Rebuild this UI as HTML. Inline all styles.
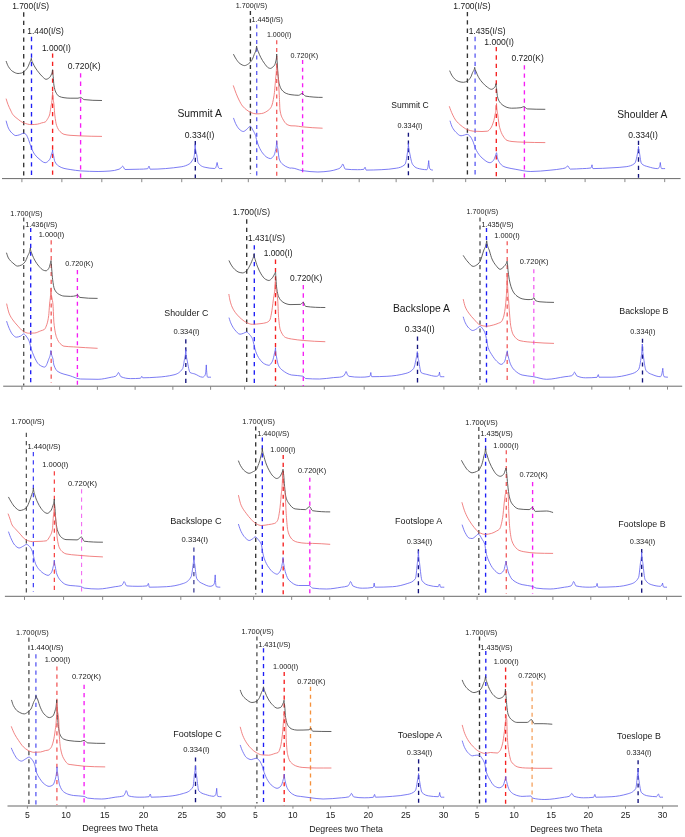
<!DOCTYPE html>
<html><head><meta charset="utf-8"><style>
html,body{margin:0;padding:0;background:#fff;}
body{width:685px;height:837px;overflow:hidden;}
svg{display:block;will-change:transform;}
text{font-family:"Liberation Sans", sans-serif;}
</style></head><body>
<svg width="685" height="837" viewBox="0 0 685 837" font-family='"Liberation Sans", sans-serif'>
<rect width="685" height="837" fill="#ffffff"/>
<line x1="2" y1="178.6" x2="680.6" y2="178.6" stroke="#6a6a6a" stroke-width="1"/>
<line x1="3.2" y1="386.2" x2="682.2" y2="386.2" stroke="#6a6a6a" stroke-width="1"/>
<line x1="4.9" y1="596.3" x2="681.8" y2="596.3" stroke="#6a6a6a" stroke-width="1"/>
<line x1="7.5" y1="806.0" x2="678" y2="806.0" stroke="#9a9a9a" stroke-width="1.5"/>
<line x1="21.9" y1="178.6" x2="21.9" y2="182.2" stroke="#888888" stroke-width="1"/>
<line x1="61.86" y1="178.6" x2="61.86" y2="182.2" stroke="#888888" stroke-width="1"/>
<line x1="101.82" y1="178.6" x2="101.82" y2="182.2" stroke="#888888" stroke-width="1"/>
<line x1="141.78" y1="178.6" x2="141.78" y2="182.2" stroke="#888888" stroke-width="1"/>
<line x1="181.74" y1="178.6" x2="181.74" y2="182.2" stroke="#888888" stroke-width="1"/>
<line x1="221.7" y1="178.6" x2="221.7" y2="182.2" stroke="#888888" stroke-width="1"/>
<line x1="23.7" y1="12.3" x2="23.7" y2="175.8" stroke="#333333" stroke-width="1.35" stroke-dasharray="4.35 4.01"/>
<line x1="31.5" y1="36.8" x2="31.5" y2="175.8" stroke="#1e1ef5" stroke-width="1.35" stroke-dasharray="4.35 4.01"/>
<line x1="52.6" y1="53.4" x2="52.6" y2="175.8" stroke="#f52020" stroke-width="1.35" stroke-dasharray="4.35 4.01"/>
<line x1="80.6" y1="73.2" x2="80.6" y2="178.5" stroke="#f51ef5" stroke-width="1.35" stroke-dasharray="4.35 4.01"/>
<line x1="195.3" y1="141" x2="195.3" y2="178" stroke="#14147d" stroke-width="1.35" stroke-dasharray="4.35 4.01"/>
<path d="M6.2,61.4C6.93,63.44 7.67,65.44 8.4,66.6C9.87,68.91 11.33,70.65 12.8,71.5C14.53,72.5 16.27,73.5 18,73.5C19.17,73.5 20.33,73.28 21.5,73C22.37,72.8 23.23,72.15 24.1,71.5C25.27,70.62 26.43,69.35 27.6,67.5C28.33,66.34 29.07,64.14 29.8,62.3C30.3,61.04 30.8,61.23 31.3,58.3C31.83,61.82 32.37,61.84 32.9,63.1C33.77,65.14 34.63,66.61 35.5,68C36.67,69.87 37.83,71.37 39,72.8C40.17,74.23 41.33,75.66 42.5,76.7C43.67,77.74 44.83,79.3 46,79.3C47.17,79.3 48.33,78.54 49.5,77.6C50.23,77.01 50.97,75.59 51.7,73.6C52,72.78 52.3,72.56 52.6,69.7C52.8,74.54 53,73.97 53.2,76.3C53.43,79.02 53.67,83.5 53.9,85C54.5,88.85 55.1,90.79 55.7,92C56.87,94.34 58.03,95.86 59.2,96.4C60.8,97.14 62.4,97.49 64,97.7C66.03,97.96 68.07,98.2 70.1,98.2C72.73,98.2 75.37,98.2 78,98.2C78.87,98.2 79.73,97.4 80.6,97.4C81.77,97.4 82.93,99.46 84.1,99.6C89.93,100.28 95.77,100.5 101.6,100.5" fill="none" stroke="#454545" stroke-width="0.85" stroke-linejoin="round" stroke-linecap="round"/>
<path d="M6.2,99C6.8,101.05 7.4,102.95 8,104.5C8.83,106.65 9.67,108.28 10.5,110C11.27,111.59 12.03,113.5 12.8,114.5C14.23,116.37 15.67,117.37 17.1,118.5C19.3,120.23 21.5,122.15 23.7,122.9C26.2,123.75 28.7,124.6 31.2,124.6C33.23,124.6 35.27,124.43 37.3,124.2C38.77,124.04 40.23,123.3 41.7,122.9C42.87,122.58 44.03,122.52 45.2,122C46.07,121.61 46.93,119.93 47.8,118.5C48.37,117.56 48.93,116.76 49.5,115C49.93,113.66 50.37,110.46 50.8,107.5C51.4,103.4 52,103.37 52.6,92C53.07,101.53 53.53,99.96 54,105C54.27,107.88 54.53,112.78 54.8,115C55.4,120.01 56,123.79 56.6,125.5C57.77,128.82 58.93,130.43 60.1,131.6C61.4,132.9 62.7,133.93 64,134.3C66,134.86 68,135.12 70,135.3C73.53,135.61 77.07,135.78 80.6,135.9C87.6,136.15 94.6,136.39 101.6,136.4" fill="none" stroke="#ee6464" stroke-width="0.8" stroke-linejoin="round" stroke-linecap="round"/>
<path d="M6.2,121.1C6.93,123.94 7.67,126.63 8.4,128.1C9.57,130.44 10.73,131.94 11.9,133C13.2,134.18 14.5,135.6 15.8,135.6C17.13,135.6 18.47,135.08 19.8,134.7C21.1,134.33 22.4,133.2 23.7,133.2C24.43,133.2 25.17,133.72 25.9,134.3C26.77,134.98 27.63,137.44 28.5,139.5C29.4,141.64 30.3,145.24 31.2,147.4C32.37,150.19 33.53,152.8 34.7,154.4C36.13,156.36 37.57,157.67 39,158.8C41.07,160.43 43.13,162.7 45.2,162.7C46.63,162.7 48.07,161.41 49.5,159.7C50.23,158.82 50.97,155.95 51.7,153.5C52,152.5 52.3,152.57 52.6,150C52.9,153.89 53.2,153.72 53.5,155.3C53.93,157.58 54.37,160.46 54.8,161.4C55.97,163.94 57.13,164.99 58.3,165.8C60.2,167.12 62.1,167.91 64,168.4C66.03,168.93 68.07,169.18 70.1,169.5C73.6,170.04 77.1,170.7 80.6,170.9C86.43,171.23 92.27,171.5 98.1,171.5C102.07,171.5 106.03,171.28 110,171C113.03,170.78 116.07,170.29 119.1,169.2C119.43,169.08 119.77,168.76 120.1,168.52C120.63,168.13 121.17,167.78 121.7,167.28C122.03,166.96 122.37,166.1 122.7,166.1C123.47,166.1 124.23,169.5 125,169.5C129.8,169.5 134.6,169.35 139.4,169.2C142.17,169.11 144.93,169.13 147.7,168.73C148.13,168.67 148.57,166.1 149,166.1C149.4,166.1 149.8,169.2 150.2,169.2C160.53,169.2 170.87,168.31 181.2,166.8C184.13,166.37 187.07,165.44 190,163.5C190.83,162.95 191.67,161.32 192.5,160C192.93,159.31 193.37,159 193.8,157.69C194.23,156.38 194.67,154.2 195.1,144.6C195.73,152.96 196.37,152.03 197,156C197.33,158.09 197.67,161.99 198,162.5C200.37,166.14 202.73,166.78 205.1,167.3C208.3,168 211.5,168.5 214.7,168.5C215.5,168.5 216.3,166.9 217.1,162.5C217.9,166.9 218.7,168.5 219.5,168.5C220.3,168.5 221.1,168.5 221.9,168.5" fill="none" stroke="#5a5af0" stroke-width="0.8" stroke-linejoin="round" stroke-linecap="round"/>
<text x="12.16" y="8.74" font-size="8.42" fill="#1a1a1a">1.700(I/S)</text>
<text x="27.37" y="34.3" font-size="8.32" fill="#1a1a1a">1.440(I/S)</text>
<text x="41.96" y="51" font-size="8.37" fill="#1a1a1a">1.000(I)</text>
<text x="67.87" y="68.9" font-size="8.54" fill="#1a1a1a">0.720(K)</text>
<text x="177.42" y="116.8" font-size="10.38" fill="#1a1a1a">Summit A</text>
<text x="184.77" y="138.1" font-size="8.58" fill="#1a1a1a">0.334(I)</text>
<line x1="248.3" y1="178.6" x2="248.3" y2="182.2" stroke="#888888" stroke-width="1"/>
<line x1="285.26" y1="178.6" x2="285.26" y2="182.2" stroke="#888888" stroke-width="1"/>
<line x1="322.22" y1="178.6" x2="322.22" y2="182.2" stroke="#888888" stroke-width="1"/>
<line x1="359.18" y1="178.6" x2="359.18" y2="182.2" stroke="#888888" stroke-width="1"/>
<line x1="396.14" y1="178.6" x2="396.14" y2="182.2" stroke="#888888" stroke-width="1"/>
<line x1="433.1" y1="178.6" x2="433.1" y2="182.2" stroke="#888888" stroke-width="1"/>
<line x1="250.4" y1="10.9" x2="250.4" y2="173.7" stroke="#333333" stroke-width="1.35" stroke-dasharray="4.02 3.71"/>
<line x1="256.7" y1="24.5" x2="256.7" y2="177.6" stroke="#5f5ff2" stroke-width="1.35" stroke-dasharray="4.02 3.71"/>
<line x1="276.7" y1="40.3" x2="276.7" y2="178.5" stroke="#f26060" stroke-width="1.35" stroke-dasharray="4.02 3.71"/>
<line x1="302.6" y1="60.1" x2="302.6" y2="175.8" stroke="#f51ef5" stroke-width="1.35" stroke-dasharray="4.02 3.71"/>
<line x1="408.4" y1="132.7" x2="408.4" y2="176.2" stroke="#14147d" stroke-width="1.35" stroke-dasharray="4.02 3.71"/>
<path d="M233.6,54.5C234.5,56.33 235.4,58 236.3,59.3C237.47,60.99 238.63,62.73 239.8,63.5C241.4,64.55 243,65.6 244.6,65.6C245.9,65.6 247.2,64.64 248.5,63.8C249.53,63.13 250.57,62.1 251.6,60.6C252.47,59.34 253.33,56.94 254.2,54.5C255,52.25 255.8,52.26 256.6,46.1C257.13,49.99 257.67,49.91 258.2,51.4C259.07,53.81 259.93,55.82 260.8,57.5C261.97,59.76 263.13,61.66 264.3,63.2C265.77,65.13 267.23,67.5 268.7,68C269.3,68.2 269.9,68.4 270.5,68.4C271.17,68.4 271.83,67.77 272.5,67.3C273.13,66.85 273.77,66.37 274.4,65.4C274.97,64.53 275.53,63.05 276.1,60.1C276.3,59.06 276.5,58.47 276.7,54C276.87,59.79 277.03,59.23 277.2,61.9C277.43,65.64 277.67,70.69 277.9,73.3C278.33,78.14 278.77,82.12 279.2,83.8C280.07,87.16 280.93,88.82 281.8,89.9C283.27,91.72 284.73,92.8 286.2,93.4C287.8,94.05 289.4,94.5 291,94.7C293.53,95.02 296.07,95.3 298.6,95.3C299.77,95.3 300.93,93.5 302.1,93.5C303.27,93.5 304.43,95.9 305.6,96.1C311.13,97.05 316.67,97.4 322.2,97.4" fill="none" stroke="#454545" stroke-width="0.85" stroke-linejoin="round" stroke-linecap="round"/>
<path d="M233.4,85.8C235.27,91.48 237.13,96.24 239,100C240.17,102.35 241.33,104.58 242.5,106C243.93,107.75 245.37,108.95 246.8,110C248.23,111.05 249.67,112.09 251.1,112.6C252.87,113.23 254.63,113.9 256.4,113.9C258.17,113.9 259.93,113.72 261.7,113.5C264.03,113.2 266.37,111.78 268.7,110C269.6,109.31 270.5,108.35 271.4,106.6C272.27,104.92 273.13,101.12 274,95.8C274.57,92.32 275.13,84.89 275.7,77.9C276,74.2 276.3,74.46 276.6,65C276.9,68.67 277.2,67.71 277.5,70C278.1,74.58 278.7,85.46 279.3,95.8C279.53,99.82 279.77,108.47 280,110C280.9,115.89 281.8,117.07 282.7,118.8C284.17,121.62 285.63,123.73 287.1,124.5C288.4,125.18 289.7,125.74 291,125.8C292.37,125.86 293.73,125.85 295.1,125.9C297.43,125.99 299.77,126.58 302.1,126.8C308.8,127.44 315.5,128.03 322.2,128.2" fill="none" stroke="#ee6464" stroke-width="0.8" stroke-linejoin="round" stroke-linecap="round"/>
<path d="M233.6,118.3C234.5,120.92 235.4,123.3 236.3,124.9C237.47,126.98 238.63,128.83 239.8,129.7C240.97,130.57 242.13,131.5 243.3,131.5C244.47,131.5 245.63,130.16 246.8,129.3C247.97,128.44 249.13,126.2 250.3,126.2C251.17,126.2 252.03,128.6 252.9,130.1C253.77,131.6 254.63,132.95 255.5,135.4C255.93,136.62 256.37,139.25 256.8,140.7C257.53,143.16 258.27,145.2 259,146.8C260.17,149.34 261.33,151.4 262.5,152.9C263.97,154.78 265.43,156.52 266.9,157.3C268.07,157.92 269.23,158.6 270.4,158.6C271.57,158.6 272.73,157.25 273.9,155.5C274.5,154.6 275.1,152.45 275.7,149.4C276.03,147.7 276.37,147.08 276.7,140.7C277.1,147.08 277.5,146.47 277.9,149.4C278.33,152.57 278.77,157.79 279.2,159C280.37,162.26 281.53,163.27 282.7,164.3C284.43,165.83 286.17,166.8 287.9,167.4C288.93,167.76 289.97,168.2 291,168.2C291.2,168.2 291.4,168 291.6,168C295.1,168 298.6,170.13 302.1,170.6C307.37,171.31 312.63,172 317.9,172C321.93,172 325.97,171.52 330,171C332.53,170.67 335.07,169.95 337.6,169.1C338.43,168.82 339.27,168.55 340.1,167.98C340.63,167.61 341.17,166.77 341.7,165.94C342.03,165.42 342.37,164 342.7,164C343.53,164 344.37,169 345.2,169.1C349.3,169.59 353.4,169.7 357.5,169.7C359.6,169.7 361.7,169.63 363.8,169.32C364.23,169.26 364.67,167.2 365.1,167.2C365.43,167.2 365.77,170.1 366.1,170.1C371.13,170.1 376.17,169.91 381.2,169.7C386.27,169.49 391.33,169.07 396.4,168.2C399.27,167.71 402.13,167.15 405,164.4C405.8,163.63 406.6,158.31 407.4,153C407.73,150.79 408.07,150.47 408.4,143.5C408.83,150.47 409.27,150.7 409.7,153C410.67,158.14 411.63,163.03 412.6,164.4C414.17,166.62 415.73,167.75 417.3,168.2C420.47,169.11 423.63,169.7 426.8,169.7C427.43,169.7 428.07,167.27 428.7,160.6C429.13,166.83 429.57,168.74 430,169.1C430.83,169.79 431.67,170.1 432.5,170.1" fill="none" stroke="#5a5af0" stroke-width="0.8" stroke-linejoin="round" stroke-linecap="round"/>
<text x="235.75" y="7.6" font-size="7.17" fill="#1a1a1a">1.700(I/S)</text>
<text x="251.45" y="22.1" font-size="7.19" fill="#1a1a1a">1.445(I/S)</text>
<text x="266.96" y="37.1" font-size="7.07" fill="#1a1a1a">1.000(I)</text>
<text x="290.62" y="57.8" font-size="7.2" fill="#1a1a1a">0.720(K)</text>
<text x="391.21" y="107.9" font-size="8.55" fill="#1a1a1a">Summit C</text>
<text x="397.52" y="127.9" font-size="7.26" fill="#1a1a1a">0.334(I)</text>
<line x1="465.7" y1="178.5" x2="465.7" y2="182.1" stroke="#888888" stroke-width="1"/>
<line x1="505.5" y1="178.5" x2="505.5" y2="182.1" stroke="#888888" stroke-width="1"/>
<line x1="545.3" y1="178.5" x2="545.3" y2="182.1" stroke="#888888" stroke-width="1"/>
<line x1="585.1" y1="178.5" x2="585.1" y2="182.1" stroke="#888888" stroke-width="1"/>
<line x1="624.9" y1="178.5" x2="624.9" y2="182.1" stroke="#888888" stroke-width="1"/>
<line x1="664.7" y1="178.5" x2="664.7" y2="182.1" stroke="#888888" stroke-width="1"/>
<line x1="467.4" y1="11.9" x2="467.4" y2="175.8" stroke="#333333" stroke-width="1.35" stroke-dasharray="4.33 4"/>
<line x1="475.1" y1="36.8" x2="475.1" y2="175.8" stroke="#5f5ff2" stroke-width="1.35" stroke-dasharray="4.33 4"/>
<line x1="496.3" y1="47" x2="496.3" y2="177" stroke="#f52020" stroke-width="1.35" stroke-dasharray="4.33 4"/>
<line x1="524.4" y1="65.2" x2="524.4" y2="177.6" stroke="#f51ef5" stroke-width="1.35" stroke-dasharray="4.33 4"/>
<line x1="638.5" y1="140.7" x2="638.5" y2="177.7" stroke="#14147d" stroke-width="1.35" stroke-dasharray="4.33 4"/>
<path d="M449.8,71C450.67,73.06 451.53,75.01 452.4,76.2C453.87,78.21 455.33,79.84 456.8,80.6C458.23,81.34 459.67,81.92 461.1,82.1C461.9,82.2 462.7,82.3 463.5,82.3C464.8,82.3 466.1,81.68 467.4,81C468.53,80.41 469.67,78.98 470.8,77.1C471.37,76.16 471.93,74.12 472.5,72.7C473.23,70.87 473.97,71.29 474.7,67.4C475.13,70.33 475.57,70.25 476,71.4C476.9,73.79 477.8,75.97 478.7,77.5C480.13,79.94 481.57,81.65 483,83.2C484.47,84.78 485.93,86.23 487.4,87.2C488.73,88.08 490.07,89.3 491.4,89.3C492.4,89.3 493.4,88.59 494.4,87.6C494.93,87.07 495.47,86.53 496,83.6C496.2,87.49 496.4,87.14 496.6,88.9C496.9,91.54 497.2,95.58 497.5,96.8C498.23,99.77 498.97,100.99 499.7,102C501.17,104.03 502.63,105.14 504.1,106C505.4,106.76 506.7,107.43 508,107.7C509.2,107.95 510.4,108.2 511.6,108.2C514.73,108.2 517.87,108.04 521,107.7C521.93,107.6 522.87,106.6 523.8,106.6C524.97,106.6 526.13,108.84 527.3,108.9C533.17,109.23 539.03,109.3 544.9,109.3" fill="none" stroke="#454545" stroke-width="0.85" stroke-linejoin="round" stroke-linecap="round"/>
<path d="M449.4,106.6C450.37,109.4 451.33,111.95 452.3,114C453.47,116.48 454.63,118.77 455.8,120.3C457.53,122.57 459.27,124.12 461,125.5C463.03,127.12 465.07,128.71 467.1,129.5C469.17,130.3 471.23,131.07 473.3,131.2C476.2,131.39 479.1,131.5 482,131.5C483.77,131.5 485.53,131.4 487.3,131.2C488.47,131.07 489.63,129.63 490.8,128.1C491.67,126.96 492.53,124.71 493.4,122C493.93,120.33 494.47,117.98 495,115C495.5,112.21 496,111.93 496.5,103.5C496.93,111.93 497.37,111.64 497.8,115C498.4,119.66 499,125 499.6,127.3C500.77,131.78 501.93,134.18 503.1,136C504.4,138.03 505.7,139.91 507,140.4C508.67,141.03 510.33,141.33 512,141.5C515.93,141.9 519.87,142.08 523.8,142.2C530.83,142.41 537.87,142.6 544.9,142.6" fill="none" stroke="#ee6464" stroke-width="0.8" stroke-linejoin="round" stroke-linecap="round"/>
<path d="M450.1,121.1C450.83,123.58 451.57,125.91 452.3,127.3C453.47,129.51 454.63,130.98 455.8,132.1C457.53,133.76 459.27,135.8 461,135.8C462.17,135.8 463.33,135.29 464.5,135C465.37,134.78 466.23,134.3 467.1,134.3C468,134.3 468.9,135.18 469.8,136C470.97,137.06 472.13,139.5 473.3,142.2C473.87,143.51 474.43,146.02 475,147.4C475.9,149.59 476.8,151.33 477.7,152.7C479.13,154.88 480.57,156.7 482,157.9C484.63,160.1 487.27,162.7 489.9,162.7C491.07,162.7 492.23,161.71 493.4,160.5C494.13,159.74 494.87,157.23 495.6,155.3C495.9,154.51 496.2,152.7 496.5,152.7C496.8,152.7 497.1,156.89 497.4,157.9C498.13,160.38 498.87,161.67 499.6,162.7C500.77,164.35 501.93,165.58 503.1,166.2C504.4,166.89 505.7,167.26 507,167.6C509.7,168.31 512.4,168.74 515.1,169.2C520.33,170.09 525.57,171.5 530.8,171.5C537.23,171.5 543.67,170.78 550.1,170.2C554.27,169.82 558.43,169.34 562.6,168.6C563.43,168.45 564.27,168.31 565.1,168.01C565.63,167.81 566.17,167.37 566.7,166.93C567.03,166.65 567.37,165.9 567.7,165.9C568.53,165.9 569.37,169.1 570.2,169.1C574.3,169.1 578.4,168.81 582.5,168.6C585.23,168.46 587.97,168.51 590.7,168.03C591.13,167.95 591.57,167.17 592,164.8C592.33,167.59 592.67,168.6 593,168.6C599.33,168.6 605.67,168.15 612,167.8C616.73,167.54 621.47,167.35 626.2,166.7C629.03,166.31 631.87,165.69 634.7,163.4C635.67,162.62 636.63,157.95 637.6,153C637.9,151.46 638.2,151.24 638.5,146.4C638.83,151.24 639.17,150.99 639.5,153C640.13,156.83 640.77,162.71 641.4,163.4C643.6,165.78 645.8,166.05 648,166.7C651.17,167.63 654.33,168.6 657.5,168.6C658,168.6 658.5,168.22 659,167.69C659.43,167.22 659.87,166.3 660.3,162.5C660.77,166.97 661.23,168.6 661.7,168.6C662.7,168.6 663.7,168.6 664.7,168.6" fill="none" stroke="#5a5af0" stroke-width="0.8" stroke-linejoin="round" stroke-linecap="round"/>
<text x="453.35" y="8.9" font-size="8.49" fill="#1a1a1a">1.700(I/S)</text>
<text x="468.66" y="33.6" font-size="8.42" fill="#1a1a1a">1.435(I/S)</text>
<text x="484.35" y="44.8" font-size="8.59" fill="#1a1a1a">1.000(I)</text>
<text x="511.47" y="61.2" font-size="8.44" fill="#1a1a1a">0.720(K)</text>
<text x="617.23" y="118" font-size="10.26" fill="#1a1a1a">Shoulder A</text>
<text x="628.26" y="137.5" font-size="8.61" fill="#1a1a1a">0.334(I)</text>
<line x1="21.9" y1="386.2" x2="21.9" y2="389.8" stroke="#888888" stroke-width="1"/>
<line x1="59.64" y1="386.2" x2="59.64" y2="389.8" stroke="#888888" stroke-width="1"/>
<line x1="97.38" y1="386.2" x2="97.38" y2="389.8" stroke="#888888" stroke-width="1"/>
<line x1="135.12" y1="386.2" x2="135.12" y2="389.8" stroke="#888888" stroke-width="1"/>
<line x1="172.86" y1="386.2" x2="172.86" y2="389.8" stroke="#888888" stroke-width="1"/>
<line x1="210.6" y1="386.2" x2="210.6" y2="389.8" stroke="#888888" stroke-width="1"/>
<line x1="23.7" y1="217.5" x2="23.7" y2="385.5" stroke="#555555" stroke-width="1.35" stroke-dasharray="4.11 3.79"/>
<line x1="30.7" y1="228" x2="30.7" y2="386" stroke="#1e1ef5" stroke-width="1.35" stroke-dasharray="4.11 3.79"/>
<line x1="51.2" y1="240.3" x2="51.2" y2="383" stroke="#f26060" stroke-width="1.35" stroke-dasharray="4.11 3.79"/>
<line x1="77.4" y1="270.1" x2="77.4" y2="385.5" stroke="#f51ef5" stroke-width="1.35" stroke-dasharray="4.11 3.79"/>
<line x1="185.8" y1="339.3" x2="185.8" y2="383.9" stroke="#14147d" stroke-width="1.35" stroke-dasharray="4.11 3.79"/>
<path d="M6.6,253.1C7.2,255.01 7.8,256.99 8.4,258C9.87,260.46 11.33,261.67 12.8,262.9C14.4,264.24 16,266.1 17.6,266.1C18.9,266.1 20.2,265.56 21.5,265C22.67,264.5 23.83,263.4 25,261.9C25.87,260.78 26.73,258.42 27.6,256.2C28.5,253.9 29.4,253.99 30.3,247.9C30.87,252.37 31.43,252.4 32,254C32.9,256.54 33.8,258.49 34.7,260.1C36.13,262.67 37.57,264.72 39,266.3C40.47,267.91 41.93,269.69 43.4,270.2C44.27,270.5 45.13,270.8 46,270.8C46.9,270.8 47.8,269.76 48.7,268.5C49.27,267.71 49.83,265.31 50.4,263.2C50.6,262.46 50.8,260.6 51,260.6C51.23,260.6 51.47,266.15 51.7,268.9C52,272.43 52.3,277.11 52.6,279.4C53.2,283.98 53.8,287.68 54.4,289C55.7,291.86 57,293.11 58.3,293.9C60.2,295.06 62.1,295.94 64,296.1C66.2,296.28 68.4,296.4 70.6,296.4C72.47,296.4 74.33,296.17 76.2,295.7C76.6,295.6 77,294.8 77.4,294.8C78.17,294.8 78.93,297.29 79.7,297.4C85.53,298.23 91.37,298.4 97.2,298.4" fill="none" stroke="#454545" stroke-width="0.85" stroke-linejoin="round" stroke-linecap="round"/>
<path d="M6.7,304C7.57,308.02 8.43,311.7 9.3,313.8C10.47,316.63 11.63,318.22 12.8,319.9C14.23,321.96 15.67,323.52 17.1,325.1C19.17,327.38 21.23,330.21 23.3,331.3C25.03,332.22 26.77,333.2 28.5,333.2C30.57,333.2 32.63,333.12 34.7,333C36.73,332.88 38.77,331.55 40.8,330.8C41.97,330.37 43.13,330.26 44.3,329.5C45.17,328.94 46.03,326.82 46.9,324.3C47.5,322.55 48.1,320.04 48.7,315.5C48.97,313.48 49.23,308.38 49.5,305C49.97,299.09 50.43,300.47 50.9,288C51.6,300.47 52.3,296.53 53,305C53.3,308.63 53.6,319.66 53.9,322.5C54.8,331.03 55.7,334.96 56.6,337.4C57.77,340.56 58.93,342.33 60.1,343.5C61.4,344.8 62.7,346.01 64,346.2C67.2,346.68 70.4,346.69 73.6,346.9C81.47,347.42 89.33,347.91 97.2,348.3" fill="none" stroke="#ee6464" stroke-width="0.8" stroke-linejoin="round" stroke-linecap="round"/>
<path d="M6.7,321.5C7.57,324.22 8.43,326.72 9.3,328.6C10.47,331.13 11.63,333.65 12.8,334.8C13.97,335.95 15.13,337.2 16.3,337.2C17.73,337.2 19.17,336.65 20.6,336.1C21.63,335.7 22.67,333.9 23.7,333.9C24.73,333.9 25.77,335.65 26.8,337C27.67,338.13 28.53,339.58 29.4,341.8C30,343.34 30.6,346.87 31.2,348.8C32.07,351.59 32.93,353.95 33.8,355.8C35.53,359.5 37.27,363.38 39,364.6C40.9,365.94 42.8,367.1 44.7,367.1C46.03,367.1 47.37,362.92 48.7,359.3C49.43,357.31 50.17,356.95 50.9,350.5C51.6,356.95 52.3,355.67 53,359.3C53.3,360.86 53.6,364.1 53.9,365C55.2,368.91 56.5,370.65 57.8,371.5C61.9,374.17 66,374.47 70.1,375.8C73.6,376.94 77.1,378.88 80.6,379C86.43,379.2 92.27,379.3 98.1,379.3C102.53,379.3 106.97,378.07 111.4,377.2C112.87,376.91 114.33,376.81 115.8,376.17C116.33,375.93 116.87,375.05 117.4,374.29C117.73,373.81 118.07,372.5 118.4,372.5C119.23,372.5 120.07,376.35 120.9,376.7C124.07,378.04 127.23,378.6 130.4,378.6C133.77,378.6 137.13,378.55 140.5,378.25C140.93,378.22 141.37,376.3 141.8,376.3C142.1,376.3 142.4,377.8 142.7,377.8C147.43,377.8 152.17,377.5 156.9,377.2C162.6,376.84 168.3,376.24 174,374.8C176.87,374.07 179.73,372.94 182.6,368.7C183.23,367.76 183.87,363.01 184.5,359.2C184.93,356.6 185.37,356.67 185.8,349.7C186.3,358.06 186.8,358.37 187.3,361.1C188.23,366.2 189.17,371.91 190.1,372.5C191.7,373.5 193.3,373.43 194.9,374C197.43,374.9 199.97,377.2 202.5,377.2C203.33,377.2 204.17,376.59 205,375.35C205.43,374.71 205.87,372.57 206.3,364.9C206.73,373.92 207.17,377.2 207.6,377.2C208.6,377.2 209.6,377.2 210.6,377.2" fill="none" stroke="#5a5af0" stroke-width="0.8" stroke-linejoin="round" stroke-linecap="round"/>
<text x="10.35" y="215.5" font-size="7.29" fill="#1a1a1a">1.700(I/S)</text>
<text x="25.14" y="226.7" font-size="7.34" fill="#1a1a1a">1.436(I/S)</text>
<text x="38.74" y="236.8" font-size="7.41" fill="#1a1a1a">1.000(I)</text>
<text x="65.22" y="266.4" font-size="7.28" fill="#1a1a1a">0.720(K)</text>
<text x="164.3" y="316.3" font-size="8.8" fill="#1a1a1a">Shoulder C</text>
<text x="173.61" y="334.3" font-size="7.53" fill="#1a1a1a">0.334(I)</text>
<line x1="244.6" y1="386" x2="244.6" y2="389.6" stroke="#888888" stroke-width="1"/>
<line x1="284.46" y1="386" x2="284.46" y2="389.6" stroke="#888888" stroke-width="1"/>
<line x1="324.32" y1="386" x2="324.32" y2="389.6" stroke="#888888" stroke-width="1"/>
<line x1="364.18" y1="386" x2="364.18" y2="389.6" stroke="#888888" stroke-width="1"/>
<line x1="404.04" y1="386" x2="404.04" y2="389.6" stroke="#888888" stroke-width="1"/>
<line x1="443.9" y1="386" x2="443.9" y2="389.6" stroke="#888888" stroke-width="1"/>
<line x1="246.7" y1="219.3" x2="246.7" y2="382.9" stroke="#333333" stroke-width="1.35" stroke-dasharray="4.34 4"/>
<line x1="254.3" y1="245.2" x2="254.3" y2="382.9" stroke="#1e1ef5" stroke-width="1.35" stroke-dasharray="4.34 4"/>
<line x1="275.5" y1="259.6" x2="275.5" y2="386" stroke="#f52020" stroke-width="1.35" stroke-dasharray="4.34 4"/>
<line x1="303.3" y1="285" x2="303.3" y2="386" stroke="#f51ef5" stroke-width="1.35" stroke-dasharray="4.34 4"/>
<line x1="417.5" y1="336.4" x2="417.5" y2="382.9" stroke="#14147d" stroke-width="1.35" stroke-dasharray="4.34 4"/>
<path d="M229.1,260.8C229.83,262.43 230.57,263.96 231.3,265.1C232.47,266.92 233.63,268.49 234.8,269.5C236.23,270.74 237.67,271.92 239.1,272.3C240.27,272.61 241.43,272.9 242.6,272.9C243.93,272.9 245.27,271.88 246.6,270.8C247.6,269.99 248.6,267.88 249.6,266C250.5,264.31 251.4,262.44 252.3,259.9C252.87,258.3 253.43,258.27 254,253.8C254.43,258.27 254.87,258.29 255.3,259.9C256.2,263.23 257.1,265.63 258,267.8C259,270.21 260,272.36 261,273.9C262.47,276.16 263.93,278.38 265.4,279.2C266.57,279.85 267.73,280.5 268.9,280.5C270.07,280.5 271.23,279.09 272.4,277.8C273.13,276.99 273.87,275.25 274.6,273.9C274.9,273.35 275.2,272.2 275.5,272.2C275.63,272.2 275.77,276.51 275.9,278.3C276.2,282.33 276.5,286.79 276.8,288.8C277.4,292.83 278,295.37 278.6,296.7C279.77,299.28 280.93,300.56 282.1,301.5C283.4,302.55 284.7,303.28 286,303.7C287.33,304.13 288.67,304.6 290,304.6C293.5,304.6 297,304.56 300.5,304.4C301.43,304.36 302.37,302.3 303.3,302.3C304.07,302.3 304.83,306.29 305.6,306.4C312.03,307.34 318.47,307.5 324.9,307.5" fill="none" stroke="#454545" stroke-width="0.85" stroke-linejoin="round" stroke-linecap="round"/>
<path d="M228.9,294.4C229.23,296.52 229.57,298.6 229.9,300C230.63,303.08 231.37,305.38 232.1,307C233.57,310.23 235.03,312.19 236.5,314C238.27,316.19 240.03,317.86 241.8,319.3C243.4,320.6 245,321.93 246.6,322.6C248.5,323.4 250.4,324.3 252.3,324.3C255.2,324.3 258.1,323.94 261,323.6C262.77,323.39 264.53,323.15 266.3,322.6C267.47,322.24 268.63,321.65 269.8,320.1C270.37,319.35 270.93,316.07 271.5,313.1C272.1,309.95 272.7,304.88 273.3,300C273.97,294.58 274.63,295.07 275.3,281.5C276.1,295.07 276.9,290.55 277.7,300C278,303.54 278.3,314.18 278.6,317.5C279.17,323.77 279.73,328.3 280.3,329.8C282.2,334.84 284.1,336.95 286,337.7C287.87,338.44 289.73,338.69 291.6,339C295.67,339.68 299.73,340.17 303.8,340.5C310.83,341.07 317.87,341.59 324.9,341.7" fill="none" stroke="#ee6464" stroke-width="0.8" stroke-linejoin="round" stroke-linecap="round"/>
<path d="M229.1,318C229.83,320.36 230.57,322.56 231.3,324.1C232.47,326.54 233.63,328.47 234.8,329.8C236.53,331.77 238.27,334.2 240,334.2C241.17,334.2 242.33,333.67 243.5,333.3C244.53,332.97 245.57,332 246.6,332C247.6,332 248.6,333.51 249.6,334.6C250.5,335.58 251.4,336.57 252.3,338.5C252.87,339.71 253.43,342.57 254,344.7C254.6,346.96 255.2,350.06 255.8,351.7C256.97,354.89 258.13,357.11 259.3,358.7C261.03,361.06 262.77,363.08 264.5,363.9C265.97,364.6 267.43,365.3 268.9,365.3C270.07,365.3 271.23,363.46 272.4,361.3C273.13,359.94 273.87,356.04 274.6,352.6C274.9,351.19 275.2,351.29 275.5,347.7C275.8,353.86 276.1,354.22 276.4,356.1C277.13,360.69 277.87,364.23 278.6,365.7C279.77,368.04 280.93,369.08 282.1,370C285.27,372.49 288.43,374.43 291.6,375C295.4,375.68 299.2,375.34 303,376.2C303.87,376.4 304.73,378.42 305.6,378.5C310.27,378.91 314.93,379 319.6,379C324.27,379 328.93,377.97 333.6,377.6C335.57,377.45 337.53,377.43 339.5,377.2C340.83,377.04 342.17,376.7 343.5,375.95C344.03,375.64 344.57,374.6 345.1,373.67C345.43,373.08 345.77,371.5 346.1,371.5C346.57,371.5 347.03,374.22 347.5,374.86C348,375.55 348.5,376.21 349,376.3C352.8,377.01 356.6,377.2 360.4,377.2C363.43,377.2 366.47,377.1 369.5,376.5C369.93,376.41 370.37,375.43 370.8,372.5C371.13,375.58 371.47,376.7 371.8,376.7C376.83,376.7 381.87,376.52 386.9,376.3C393.23,376.02 399.57,375.1 405.9,373.4C408.43,372.72 410.97,371.74 413.5,368.7C414.47,367.54 415.43,362.19 416.4,357.3C416.7,355.78 417,355.78 417.3,351.6C417.8,358.57 418.3,358.3 418.8,361.1C419.57,365.4 420.33,371.95 421.1,372.5C423,373.85 424.9,373.91 426.8,374.4C429.97,375.21 433.13,376.3 436.3,376.3C436.93,376.3 437.57,376.06 438.2,375.67C438.63,375.4 439.07,374.72 439.5,372.1C439.87,375.47 440.23,376.7 440.6,376.7C441.7,376.7 442.8,376.7 443.9,376.7" fill="none" stroke="#5a5af0" stroke-width="0.8" stroke-linejoin="round" stroke-linecap="round"/>
<text x="232.86" y="215" font-size="8.46" fill="#1a1a1a">1.700(I/S)</text>
<text x="248.06" y="241.3" font-size="8.42" fill="#1a1a1a">1.431(I/S)</text>
<text x="263.76" y="255.9" font-size="8.37" fill="#1a1a1a">1.000(I)</text>
<text x="289.97" y="281" font-size="8.44" fill="#1a1a1a">0.720(K)</text>
<text x="392.95" y="311.9" font-size="10.37" fill="#1a1a1a">Backslope A</text>
<text x="404.86" y="331.5" font-size="8.64" fill="#1a1a1a">0.334(I)</text>
<line x1="478.3" y1="386" x2="478.3" y2="389.6" stroke="#888888" stroke-width="1"/>
<line x1="516.14" y1="386" x2="516.14" y2="389.6" stroke="#888888" stroke-width="1"/>
<line x1="553.98" y1="386" x2="553.98" y2="389.6" stroke="#888888" stroke-width="1"/>
<line x1="591.82" y1="386" x2="591.82" y2="389.6" stroke="#888888" stroke-width="1"/>
<line x1="629.66" y1="386" x2="629.66" y2="389.6" stroke="#888888" stroke-width="1"/>
<line x1="667.5" y1="386" x2="667.5" y2="389.6" stroke="#888888" stroke-width="1"/>
<line x1="480" y1="217.5" x2="480" y2="384.6" stroke="#555555" stroke-width="1.35" stroke-dasharray="4.12 3.8"/>
<line x1="486.5" y1="228" x2="486.5" y2="384.6" stroke="#1e1ef5" stroke-width="1.35" stroke-dasharray="4.12 3.8"/>
<line x1="507.2" y1="241.2" x2="507.2" y2="383.7" stroke="#f26060" stroke-width="1.35" stroke-dasharray="4.12 3.8"/>
<line x1="533.8" y1="269.2" x2="533.8" y2="383.7" stroke="#f266f2" stroke-width="1.35" stroke-dasharray="4.12 3.8"/>
<line x1="642.5" y1="338.7" x2="642.5" y2="383.9" stroke="#14147d" stroke-width="1.35" stroke-dasharray="4.12 3.8"/>
<path d="M463.4,255.7C464.93,258.18 466.47,260.39 468,262C469.73,263.82 471.47,266.4 473.2,266.4C474.8,266.4 476.4,265.21 478,264C478.67,263.49 479.33,262.63 480,261.5C481.17,259.52 482.33,254.61 483.5,251C484.57,247.7 485.63,248.28 486.7,240.8C487.63,248.28 488.57,247.82 489.5,251C490.33,253.84 491.17,257.16 492,259C493.33,261.95 494.67,263.92 496,265.5C497.37,267.12 498.73,269.3 500.1,269.3C501.4,269.3 502.7,267.73 504,266.5C504.77,265.77 505.53,264.96 506.3,263.5C506.57,262.99 506.83,261.2 507.1,261.2C507.47,261.2 507.83,269.13 508.2,272C508.67,275.66 509.13,278.78 509.6,281C510.23,284.01 510.87,286.34 511.5,288C512.33,290.19 513.17,291.9 514,293C515.33,294.77 516.67,295.94 518,296.8C519.37,297.68 520.73,298.5 522.1,298.8C524.07,299.23 526.03,299.6 528,299.6C529.53,299.6 531.07,299.53 532.6,299.3C533,299.24 533.4,297.6 533.8,297.6C534.37,297.6 534.93,300.3 535.5,300.6C537,301.38 538.5,301.67 540,301.8C544.53,302.19 549.07,302.4 553.6,302.4" fill="none" stroke="#454545" stroke-width="0.85" stroke-linejoin="round" stroke-linecap="round"/>
<path d="M463.3,299.5C463.97,302.49 464.63,305.36 465.3,307C466.47,309.87 467.63,311.43 468.8,313.1C470.53,315.58 472.27,317.48 474,319.3C476.03,321.44 478.07,324.3 480.1,325C482.17,325.71 484.23,326.3 486.3,326.3C488.63,326.3 490.97,325.57 493.3,325C495.03,324.57 496.77,323.91 498.5,323.2C499.4,322.83 500.3,322.61 501.2,321.9C501.93,321.32 502.67,319.65 503.4,317.5C503.97,315.84 504.53,312.73 505.1,308.8C505.4,306.72 505.7,304.01 506,300C506.4,294.65 506.8,292.8 507.2,273C507.67,292.8 508.13,292.34 508.6,300C508.9,304.93 509.2,309.47 509.5,313.1C509.93,318.34 510.37,323.99 510.8,326.3C511.67,330.92 512.53,333.7 513.4,335C515.6,338.3 517.8,340.19 520,340.7C524.77,341.8 529.53,342.05 534.3,342.4C540.73,342.87 547.17,343.31 553.6,343.4" fill="none" stroke="#ee6464" stroke-width="0.8" stroke-linejoin="round" stroke-linecap="round"/>
<path d="M463.3,317.1C463.97,319.33 464.63,321.46 465.3,322.8C466.47,325.15 467.63,326.95 468.8,328C470.1,329.17 471.4,330.5 472.7,330.5C474,330.5 475.3,329.6 476.6,328.9C477.73,328.29 478.87,326.3 480,326.3C480.93,326.3 481.87,327.7 482.8,328.9C483.67,330.01 484.53,331.62 485.4,334.2C485.83,335.49 486.27,338.13 486.7,340.3C487.13,342.47 487.57,345.94 488,347.3C489.17,350.96 490.33,352.42 491.5,354.3C493.27,357.15 495.03,359.69 496.8,361.3C498.27,362.64 499.73,364.4 501.2,364.4C502.37,364.4 503.53,363.14 504.7,361.3C505.27,360.41 505.83,356.56 506.4,354.3C506.7,353.1 507,353.37 507.3,350.8C507.6,354.69 507.9,354.76 508.2,356.1C509.07,359.97 509.93,362.98 510.8,364.8C511.97,367.25 513.13,368.9 514.3,370C516.9,372.45 519.5,374.35 522.1,375C525.9,375.96 529.7,376.05 533.5,376.7C537.87,377.44 542.23,379.3 546.6,379.3C552.73,379.3 558.87,377.59 565,376.7C567.3,376.37 569.6,376.4 571.9,375.69C572.43,375.52 572.97,374.6 573.5,373.85C573.83,373.38 574.17,372.1 574.5,372.1C575.27,372.1 576.03,375.55 576.8,375.9C579.67,377.21 582.53,377.8 585.4,377.8C589.27,377.8 593.13,377.74 597,377.32C597.43,377.27 597.87,374.6 598.3,374.6C598.53,374.6 598.77,377.2 599,377.2C603.3,377.2 607.6,377.2 611.9,377.2C618.23,377.2 624.57,375.79 630.9,374C633.43,373.28 635.97,372.57 638.5,369.6C639.47,368.47 640.43,362.8 641.4,355.4C641.7,353.1 642,352.36 642.3,344C642.63,352.36 642.97,352.8 643.3,355.4C644.23,362.67 645.17,369.38 646.1,370.6C648,373.08 649.9,373.65 651.8,374.4C654.63,375.52 657.47,376.7 660.3,376.7C661.13,376.7 661.97,374.46 662.8,368.3C663.23,374.46 663.67,376.55 664.1,376.7C665.23,377.08 666.37,377.2 667.5,377.2" fill="none" stroke="#5a5af0" stroke-width="0.8" stroke-linejoin="round" stroke-linecap="round"/>
<text x="466.45" y="214.1" font-size="7.22" fill="#1a1a1a">1.700(I/S)</text>
<text x="481.45" y="226.6" font-size="7.29" fill="#1a1a1a">1.435(I/S)</text>
<text x="494.24" y="237.5" font-size="7.38" fill="#1a1a1a">1.000(I)</text>
<text x="519.81" y="264.4" font-size="7.5" fill="#1a1a1a">0.720(K)</text>
<text x="619.27" y="314.3" font-size="8.85" fill="#1a1a1a">Backslope B</text>
<text x="630.32" y="333.9" font-size="7.26" fill="#1a1a1a">0.334(I)</text>
<line x1="24.5" y1="596.3" x2="24.5" y2="599.9" stroke="#888888" stroke-width="1"/>
<line x1="63.58" y1="596.3" x2="63.58" y2="599.9" stroke="#888888" stroke-width="1"/>
<line x1="102.66" y1="596.3" x2="102.66" y2="599.9" stroke="#888888" stroke-width="1"/>
<line x1="141.74" y1="596.3" x2="141.74" y2="599.9" stroke="#888888" stroke-width="1"/>
<line x1="180.82" y1="596.3" x2="180.82" y2="599.9" stroke="#888888" stroke-width="1"/>
<line x1="219.9" y1="596.3" x2="219.9" y2="599.9" stroke="#888888" stroke-width="1"/>
<line x1="26.3" y1="432.8" x2="26.3" y2="596" stroke="#333333" stroke-width="1.05" stroke-dasharray="4.25 3.93"/>
<line x1="33.3" y1="452" x2="33.3" y2="591.6" stroke="#1e1ef5" stroke-width="1.05" stroke-dasharray="4.25 3.93"/>
<line x1="54.3" y1="471.3" x2="54.3" y2="593.4" stroke="#f52020" stroke-width="1.05" stroke-dasharray="4.25 3.93"/>
<line x1="81.6" y1="489.2" x2="81.6" y2="594.8" stroke="#f266f2" stroke-width="1.05" stroke-dasharray="4.25 3.93"/>
<line x1="193.9" y1="547.4" x2="193.9" y2="593.9" stroke="#14147d" stroke-width="1.05" stroke-dasharray="4.25 3.93"/>
<path d="M8.6,497.3C9.5,499.05 10.4,500.68 11.3,502.1C12.47,503.94 13.63,505.91 14.8,507C16.53,508.61 18.27,510.5 20,510.5C21.17,510.5 22.33,510.04 23.5,509.6C24.53,509.21 25.57,508.51 26.6,507.4C27.6,506.32 28.6,503.34 29.6,500.8C30.33,498.94 31.07,496.78 31.8,494.3C32.33,492.5 32.87,492.65 33.4,488.1C33.9,493.23 34.4,493.35 34.9,495.1C35.77,498.13 36.63,500.23 37.5,502.1C38.67,504.62 39.83,506.7 41,508.3C42.17,509.9 43.33,511.47 44.5,512.2C45.4,512.76 46.3,513.4 47.2,513.4C48.37,513.4 49.53,512.24 50.7,510.9C51.43,510.06 52.17,507.98 52.9,505.6C53.37,504.08 53.83,503.87 54.3,499.1C54.53,505.85 54.77,505.08 55,508.3C55.3,512.44 55.6,518.93 55.9,521.4C56.5,526.34 57.1,529.31 57.7,531C58.87,534.28 60.03,536.26 61.2,537.2C62.8,538.49 64.4,539.51 66,539.6C69.7,539.82 73.4,539.9 77.1,539.9C78.57,539.9 80.03,537 81.5,537C82.37,537 83.23,541.08 84.1,541.2C90.23,542.04 96.37,542.2 102.5,542.2" fill="none" stroke="#454545" stroke-width="0.85" stroke-linejoin="round" stroke-linecap="round"/>
<path d="M8.2,514C8.8,515.64 9.4,517.31 10,519C10.7,520.97 11.4,523.79 12.1,525C13.07,526.68 14.03,527.4 15,528.5C16.37,530.06 17.73,531.48 19.1,532.9C21.43,535.32 23.77,538.91 26.1,539.9C28.17,540.78 30.23,541.6 32.3,541.6C35.2,541.6 38.1,541.45 41,541.3C42.77,541.21 44.53,541.13 46.3,540.8C47.47,540.58 48.63,538.44 49.8,536.4C50.67,534.89 51.53,533.78 52.4,529.4C52.7,527.88 53,520.36 53.3,517C53.6,513.64 53.9,514.73 54.2,508.5C54.63,514.73 55.07,513.29 55.5,517C55.73,519 55.97,522.17 56.2,525C56.53,529.04 56.87,535.64 57.2,538C57.93,543.18 58.67,546.3 59.4,547.8C60.57,550.19 61.73,551.32 62.9,552.2C63.93,552.98 64.97,553.67 66,553.9C69.7,554.71 73.4,554.87 77.1,555.2C85.57,555.95 94.03,556.63 102.5,556.9" fill="none" stroke="#ee6464" stroke-width="0.8" stroke-linejoin="round" stroke-linecap="round"/>
<path d="M8.6,532C9.5,534.67 10.4,537.11 11.3,539C12.47,541.45 13.63,543.95 14.8,545.1C16.23,546.52 17.67,548 19.1,548C20.57,548 22.03,546.71 23.5,546C24.53,545.5 25.57,544.4 26.6,544.4C27.6,544.4 28.6,545.49 29.6,546.5C30.5,547.41 31.4,549 32.3,551.3C32.87,552.75 33.43,556.19 34,558.3C34.6,560.53 35.2,563.09 35.8,564.4C36.97,566.95 38.13,568.43 39.3,569.7C41.03,571.59 42.77,573.09 44.5,574C45.67,574.62 46.83,575.4 48,575.4C49.17,575.4 50.33,574.05 51.5,572.3C52.1,571.4 52.7,568.9 53.3,566.2C53.63,564.7 53.97,564.55 54.3,560C54.6,564.55 54.9,564.46 55.2,566.2C55.73,569.29 56.27,572.53 56.8,574C57.97,577.22 59.13,578.9 60.3,580.2C62.2,582.31 64.1,583.97 66,584.6C67.37,585.05 68.73,585.32 70.1,585.5C73.6,585.96 77.1,585.82 80.6,586.4C81.77,586.59 82.93,587.94 84.1,588.1C88.77,588.73 93.43,589 98.1,589C103.8,589 109.5,587.6 115.2,586.7C117.3,586.37 119.4,586.34 121.5,585.56C122.03,585.36 122.57,584.33 123.1,583.48C123.43,582.94 123.77,581.5 124.1,581.5C124.93,581.5 125.77,585.83 126.6,585.9C130.4,586.23 134.2,586.3 138,586.3C141.03,586.3 144.07,586.24 147.1,585.87C147.53,585.81 147.97,583.4 148.4,583.4C148.7,583.4 149,587.2 149.3,587.2C155,587.2 160.7,586.99 166.4,586.7C172.1,586.41 177.8,585.36 183.5,583.4C186.03,582.53 188.57,581.32 191.1,576.8C191.73,575.67 192.37,570.41 193,565.4C193.3,563.03 193.6,562.87 193.9,555.9C194.23,562.87 194.57,562.67 194.9,565.4C195.53,570.59 196.17,577.63 196.8,578.7C199,582.41 201.2,582.94 203.4,584C205.63,585.08 207.87,586.3 210.1,586.3C211.37,586.3 212.63,585.85 213.9,584.59C214.33,584.16 214.77,582.01 215.2,574.9C215.57,583.55 215.93,586.58 216.3,586.7C217.5,587.1 218.7,587.2 219.9,587.2" fill="none" stroke="#5a5af0" stroke-width="0.8" stroke-linejoin="round" stroke-linecap="round"/>
<text x="11.22" y="424.1" font-size="7.57" fill="#1a1a1a">1.700(I/S)</text>
<text x="27.53" y="448.5" font-size="7.52" fill="#1a1a1a">1.440(I/S)</text>
<text x="42.33" y="466.8" font-size="7.53" fill="#1a1a1a">1.000(I)</text>
<text x="67.9" y="485.6" font-size="7.61" fill="#1a1a1a">0.720(K)</text>
<text x="170.15" y="524" font-size="9.16" fill="#1a1a1a">Backslope C</text>
<text x="181.6" y="542.3" font-size="7.65" fill="#1a1a1a">0.334(I)</text>
<line x1="253.6" y1="596.3" x2="253.6" y2="599.9" stroke="#888888" stroke-width="1"/>
<line x1="291.66" y1="596.3" x2="291.66" y2="599.9" stroke="#888888" stroke-width="1"/>
<line x1="329.72" y1="596.3" x2="329.72" y2="599.9" stroke="#888888" stroke-width="1"/>
<line x1="367.78" y1="596.3" x2="367.78" y2="599.9" stroke="#888888" stroke-width="1"/>
<line x1="405.84" y1="596.3" x2="405.84" y2="599.9" stroke="#888888" stroke-width="1"/>
<line x1="443.9" y1="596.3" x2="443.9" y2="599.9" stroke="#888888" stroke-width="1"/>
<line x1="255.7" y1="426.4" x2="255.7" y2="594.2" stroke="#333333" stroke-width="1.35" stroke-dasharray="4.14 3.82"/>
<line x1="262.3" y1="437.4" x2="262.3" y2="596.3" stroke="#1e1ef5" stroke-width="1.35" stroke-dasharray="4.14 3.82"/>
<line x1="283.2" y1="454.9" x2="283.2" y2="596.3" stroke="#f52020" stroke-width="1.35" stroke-dasharray="4.14 3.82"/>
<line x1="309.8" y1="477.7" x2="309.8" y2="596.3" stroke="#f51ef5" stroke-width="1.35" stroke-dasharray="4.14 3.82"/>
<line x1="418.4" y1="549.3" x2="418.4" y2="593.9" stroke="#14147d" stroke-width="1.35" stroke-dasharray="4.14 3.82"/>
<path d="M238.5,461C239.13,462.66 239.77,464.31 240.4,465.4C241.87,467.93 243.33,470.03 244.8,471.1C246.23,472.15 247.67,473.3 249.1,473.3C250.57,473.3 252.03,472.25 253.5,471.5C254.37,471.06 255.23,470.68 256.1,469.8C257,468.89 257.9,466.13 258.8,463.6C259.53,461.54 260.27,459.09 261,455.8C261.43,453.86 261.87,453.8 262.3,448.3C262.73,453.14 263.17,453.05 263.6,454.9C264.33,458.03 265.07,460.73 265.8,462.8C266.97,466.09 268.13,468.61 269.3,470.7C270.47,472.79 271.63,474.82 272.8,475.9C274.1,477.1 275.4,478.5 276.7,478.5C277.73,478.5 278.77,477.72 279.8,476.8C280.53,476.15 281.27,474.23 282,472.4C282.33,471.57 282.67,471.57 283,469.3C283.23,473.48 283.47,472.71 283.7,475C284,477.95 284.3,483.4 284.6,486.4C285.03,490.73 285.47,495.19 285.9,496.9C286.63,499.79 287.37,501.22 288.1,502.3C290.43,505.75 292.77,508.59 295.1,508.9C298.6,509.36 302.1,509.6 305.6,509.6C306.87,509.6 308.13,506.6 309.4,506.6C310.47,506.6 311.53,510.52 312.6,510.7C318.33,511.65 324.07,511.9 329.8,511.9" fill="none" stroke="#454545" stroke-width="0.85" stroke-linejoin="round" stroke-linecap="round"/>
<path d="M238.5,495.5C239.37,499.36 240.23,503.18 241.1,505.2C242.8,509.16 244.5,510.96 246.2,513.3C247.87,515.6 249.53,517.69 251.2,519.4C252.9,521.14 254.6,523.11 256.3,523.9C258,524.69 259.7,525.5 261.4,525.5C263.77,525.5 266.13,524.97 268.5,524.6C270.53,524.28 272.57,524.12 274.6,523.4C275.6,523.04 276.6,522.13 277.6,520.4C278.3,519.19 279,514.89 279.7,510.2C280.2,506.85 280.7,500.99 281.2,495C281.7,489.01 282.2,489.13 282.7,473C283.53,489.13 284.37,484.59 285.2,495C285.57,499.58 285.93,510.43 286.3,515.3C286.8,521.94 287.3,528.32 287.8,530.5C288.63,534.13 289.47,535.64 290.3,537C291.23,538.52 292.17,539.69 293.1,540.3C294.57,541.26 296.03,541.9 297.5,542.2C300.43,542.81 303.37,543.22 306.3,543.3C308.4,543.36 310.5,543.35 312.6,543.4C318.33,543.53 324.07,543.85 329.8,544.3" fill="none" stroke="#ee6464" stroke-width="0.8" stroke-linejoin="round" stroke-linecap="round"/>
<path d="M238.5,524.4C239.37,527.18 240.23,529.77 241.1,531.5C242.43,534.16 243.77,536.31 245.1,537.6C246.47,538.92 247.83,540.5 249.2,540.5C250.4,540.5 251.6,539.43 252.8,538.7C253.63,538.19 254.47,536.8 255.3,536.8C256.3,536.8 257.3,538.49 258.3,539.7C259.33,540.95 260.37,541.83 261.4,544.7C261.8,545.81 262.2,549.97 262.6,551.9C263.2,554.8 263.8,557.35 264.4,559C265.77,562.76 267.13,565.15 268.5,567.1C270.2,569.52 271.9,571.68 273.6,572.7C274.77,573.4 275.93,574.2 277.1,574.2C278.13,574.2 279.17,572.78 280.2,571.1C280.87,570.02 281.53,567.51 282.2,564C282.47,562.6 282.73,562.24 283,557.4C283.3,562.97 283.6,563.16 283.9,565C284.5,568.67 285.1,571.37 285.7,573.2C286.73,576.36 287.77,578.97 288.8,580C292.07,583.25 295.33,585.5 298.6,585.5C302.1,585.5 305.6,585.5 309.1,585.5C310.27,585.5 311.43,587.93 312.6,588.1C317.27,588.76 321.93,589 326.6,589C331.53,589 336.47,587.96 341.4,587.2C343.57,586.87 345.73,586.82 347.9,585.95C348.43,585.73 348.97,584.6 349.5,583.67C349.83,583.08 350.17,581.5 350.5,581.5C351.27,581.5 352.03,585.51 352.8,585.9C355.97,587.52 359.13,588.2 362.3,588.2C365.83,588.2 369.37,588.1 372.9,587.44C373.33,587.35 373.77,586.28 374.2,583.1C374.53,586.11 374.87,587.2 375.2,587.2C381,587.2 386.8,587 392.6,586.7C397.67,586.44 402.73,585.12 407.8,583.4C410.33,582.54 412.87,582.21 415.4,578.7C416.03,577.82 416.67,569.5 417.3,563.5C417.67,560.03 418.03,560.22 418.4,551.2C418.8,560.22 419.2,560.07 419.6,563.5C420.4,570.36 421.2,579.43 422,580.6C424.23,583.88 426.47,584.73 428.7,585.3C431.87,586.1 435.03,586.7 438.2,586.7C438.63,586.7 439.07,584 439.5,584C439.87,584 440.23,587.2 440.6,587.2C441.7,587.2 442.8,587.2 443.9,587.2" fill="none" stroke="#5a5af0" stroke-width="0.8" stroke-linejoin="round" stroke-linecap="round"/>
<text x="242.34" y="423.8" font-size="7.41" fill="#1a1a1a">1.700(I/S)</text>
<text x="257.14" y="436" font-size="7.34" fill="#1a1a1a">1.440(I/S)</text>
<text x="270.35" y="452.1" font-size="7.26" fill="#1a1a1a">1.000(I)</text>
<text x="297.91" y="473.1" font-size="7.39" fill="#1a1a1a">0.720(K)</text>
<text x="395.07" y="523.8" font-size="8.91" fill="#1a1a1a">Footslope A</text>
<text x="406.71" y="543.9" font-size="7.41" fill="#1a1a1a">0.334(I)</text>
<line x1="477.1" y1="596.3" x2="477.1" y2="599.9" stroke="#888888" stroke-width="1"/>
<line x1="515" y1="596.3" x2="515" y2="599.9" stroke="#888888" stroke-width="1"/>
<line x1="552.9" y1="596.3" x2="552.9" y2="599.9" stroke="#888888" stroke-width="1"/>
<line x1="590.8" y1="596.3" x2="590.8" y2="599.9" stroke="#888888" stroke-width="1"/>
<line x1="628.7" y1="596.3" x2="628.7" y2="599.9" stroke="#888888" stroke-width="1"/>
<line x1="666.6" y1="596.3" x2="666.6" y2="599.9" stroke="#888888" stroke-width="1"/>
<line x1="478.8" y1="426.9" x2="478.8" y2="595.1" stroke="#555555" stroke-width="1.35" stroke-dasharray="4.12 3.81"/>
<line x1="485.6" y1="437.9" x2="485.6" y2="596" stroke="#1e1ef5" stroke-width="1.35" stroke-dasharray="4.12 3.81"/>
<line x1="506.3" y1="450.2" x2="506.3" y2="593.4" stroke="#f26060" stroke-width="1.35" stroke-dasharray="4.12 3.81"/>
<line x1="532.6" y1="482.1" x2="532.6" y2="593.4" stroke="#f51ef5" stroke-width="1.35" stroke-dasharray="4.12 3.81"/>
<line x1="641.7" y1="548.9" x2="641.7" y2="593.9" stroke="#14147d" stroke-width="1.35" stroke-dasharray="4.12 3.81"/>
<path d="M461.6,460.6C462.5,462.36 463.4,464 464.3,465.4C465.47,467.22 466.63,469.21 467.8,470.2C469.23,471.42 470.67,472.8 472.1,472.8C473.57,472.8 475.03,472.13 476.5,471.5C477.33,471.14 478.17,470.63 479,469.8C479.93,468.87 480.87,466.92 481.8,464.5C482.53,462.6 483.27,459.06 484,455.8C484.5,453.58 485,453.8 485.5,448.3C486,453.14 486.5,453.11 487,454.9C487.9,458.12 488.8,460.64 489.7,462.8C490.87,465.59 492.03,467.9 493.2,469.8C494.37,471.7 495.53,473.76 496.7,474.6C497.87,475.44 499.03,476.3 500.2,476.3C501.37,476.3 502.53,475.42 503.7,474.2C504.27,473.61 504.83,471.39 505.4,469.8C505.6,469.24 505.8,468 506,468C506.23,468 506.47,471.18 506.7,473.3C507,476.03 507.3,481.04 507.6,483.8C508.2,489.32 508.8,494.43 509.4,496.9C510.13,499.92 510.87,502.06 511.6,503.1C513.93,506.4 516.27,508.59 518.6,508.9C522.1,509.36 525.6,509.6 529.1,509.6C530.27,509.6 531.43,507.5 532.6,507.5C533.47,507.5 534.33,511.4 535.2,511.4C539,511.4 542.8,511 546.6,511C548.63,511 550.67,511.75 552.7,512.4" fill="none" stroke="#454545" stroke-width="0.85" stroke-linejoin="round" stroke-linecap="round"/>
<path d="M462,502.6C463.03,506.35 464.07,509.77 465.1,512.3C466.47,515.65 467.83,518.13 469.2,520.4C470.87,523.17 472.53,525.54 474.2,527.5C475.9,529.5 477.6,531.81 479.3,532.6C481.33,533.54 483.37,534.4 485.4,534.4C487.43,534.4 489.47,533.9 491.5,533.4C493.2,532.98 494.9,531.95 496.6,531C497.6,530.44 498.6,530.13 499.6,529C500.63,527.83 501.67,523.17 502.7,517.3C503.2,514.46 503.7,507.44 504.2,503.1C504.53,500.2 504.87,497.34 505.2,495C505.47,493.13 505.73,493.67 506,490C506.73,493.48 507.47,491.41 508.2,495C508.37,495.86 508.53,506.48 508.7,510.2C509.07,518.38 509.43,525.07 509.8,528.5C510.47,534.73 511.13,538.78 511.8,540.7C513.17,544.64 514.53,546.29 515.9,547.8C516.9,548.91 517.9,549.86 518.9,550.3C520.53,551.02 522.17,551.42 523.8,551.7C527.9,552.41 532,552.97 536.1,553.1C541.63,553.28 547.17,553.4 552.7,553.4" fill="none" stroke="#ee6464" stroke-width="0.8" stroke-linejoin="round" stroke-linecap="round"/>
<path d="M462.2,525C463.17,528.05 464.13,530.85 465.1,532.6C466.47,535.07 467.83,537.78 469.2,538.1C470.2,538.33 471.2,538.5 472.2,538.5C473.4,538.5 474.6,536.98 475.8,536.1C476.63,535.49 477.47,534.1 478.3,534.1C479.67,534.1 481.03,537.45 482.4,539.7C483.23,541.07 484.07,541.86 484.9,544.7C485.23,545.84 485.57,550.32 485.9,551.9C486.73,555.84 487.57,558.02 488.4,560C490.1,564.05 491.8,567.28 493.5,569.1C495.53,571.28 497.57,573.7 499.6,573.7C500.97,573.7 502.33,572.52 503.7,570.6C504.2,569.9 504.7,567.17 505.2,565C505.47,563.84 505.73,563.93 506,561C506.3,564.74 506.6,564.68 506.9,566.1C507.5,568.95 508.1,571.72 508.7,573.2C510.07,576.57 511.43,578.88 512.8,580C515.9,582.54 519,583.8 522.1,584.6C525.6,585.5 529.1,585.44 532.6,586.4C533.77,586.72 534.93,587.94 536.1,588.1C540.77,588.73 545.43,589 550.1,589C554.9,589 559.7,587.95 564.5,587.2C566.67,586.86 568.83,586.82 571,585.95C571.53,585.73 572.07,584.6 572.6,583.67C572.93,583.08 573.27,581.5 573.6,581.5C574.37,581.5 575.13,585.72 575.9,585.9C580.33,586.95 584.77,587.2 589.2,587.2C591.4,587.2 593.6,587.09 595.8,586.63C596.23,586.54 596.67,585.77 597.1,583.4C597.5,586.19 597.9,587.2 598.3,587.2C604.1,587.2 609.9,586.99 615.7,586.7C620.77,586.45 625.83,585.6 630.9,584C633.43,583.2 635.97,582.2 638.5,577.7C639.13,576.57 639.77,568.64 640.4,563.5C640.83,559.99 641.27,560.46 641.7,552.1C642.1,560.46 642.5,560.15 642.9,563.5C643.63,569.64 644.37,578.41 645.1,579.6C647.33,583.23 649.57,584.14 651.8,584.8C654.63,585.64 657.47,586.3 660.3,586.3C661.07,586.3 661.83,585.45 662.6,583.1C663,586.11 663.4,587.2 663.8,587.2C664.73,587.2 665.67,587.2 666.6,587.2" fill="none" stroke="#5a5af0" stroke-width="0.8" stroke-linejoin="round" stroke-linecap="round"/>
<text x="465.34" y="424.9" font-size="7.36" fill="#1a1a1a">1.700(I/S)</text>
<text x="480.44" y="436.3" font-size="7.36" fill="#1a1a1a">1.435(I/S)</text>
<text x="493.34" y="447.7" font-size="7.35" fill="#1a1a1a">1.000(I)</text>
<text x="519.51" y="477" font-size="7.39" fill="#1a1a1a">0.720(K)</text>
<text x="618.27" y="526.5" font-size="8.88" fill="#1a1a1a">Footslope B</text>
<text x="629.81" y="544.1" font-size="7.38" fill="#1a1a1a">0.334(I)</text>
<line x1="27.4" y1="806" x2="27.4" y2="808.6" stroke="#8a8a8a" stroke-width="1"/>
<text x="25.02" y="817.7" font-size="8.6" fill="#222">5</text>
<line x1="66.14" y1="806" x2="66.14" y2="808.6" stroke="#8a8a8a" stroke-width="1"/>
<text x="61.2" y="817.7" font-size="8.6" fill="#222">10</text>
<line x1="104.88" y1="806" x2="104.88" y2="808.6" stroke="#8a8a8a" stroke-width="1"/>
<text x="99.95" y="817.7" font-size="8.6" fill="#222">15</text>
<line x1="143.62" y1="806" x2="143.62" y2="808.6" stroke="#8a8a8a" stroke-width="1"/>
<text x="138.79" y="817.7" font-size="8.6" fill="#222">20</text>
<line x1="182.36" y1="806" x2="182.36" y2="808.6" stroke="#8a8a8a" stroke-width="1"/>
<text x="177.54" y="817.7" font-size="8.6" fill="#222">25</text>
<line x1="221.1" y1="806" x2="221.1" y2="808.6" stroke="#8a8a8a" stroke-width="1"/>
<text x="216.32" y="817.7" font-size="8.6" fill="#222">30</text>
<line x1="28.9" y1="637.5" x2="28.9" y2="806" stroke="#555555" stroke-width="1.35" stroke-dasharray="4.22 3.89"/>
<line x1="35.9" y1="654.2" x2="35.9" y2="805.1" stroke="#5f5ff2" stroke-width="1.35" stroke-dasharray="4.22 3.89"/>
<line x1="56.9" y1="666.4" x2="56.9" y2="805.1" stroke="#f26060" stroke-width="1.35" stroke-dasharray="4.22 3.89"/>
<line x1="84.1" y1="684.8" x2="84.1" y2="806" stroke="#f51ef5" stroke-width="1.35" stroke-dasharray="4.22 3.89"/>
<line x1="195.5" y1="757.4" x2="195.5" y2="803.9" stroke="#14147d" stroke-width="1.35" stroke-dasharray="4.22 3.89"/>
<path d="M11.6,700.3C12.2,702.35 12.8,704.46 13.4,705.6C14.87,708.39 16.33,710.37 17.8,711.3C19.97,712.67 22.13,713.9 24.3,713.9C25.63,713.9 26.97,712.67 28.3,711.7C29.17,711.07 30.03,710.34 30.9,709.1C31.77,707.86 32.63,704.81 33.5,702.5C34.33,700.28 35.17,700.63 36,695.5C36.5,698.07 37,697.72 37.5,699C38.5,701.57 39.5,705.6 40.5,707.8C41.67,710.37 42.83,712.7 44,713.9C45.77,715.71 47.53,717.6 49.3,717.6C50.47,717.6 51.63,716.99 52.8,716.1C53.67,715.44 54.53,712.96 55.4,709.5C55.83,707.77 56.27,706.94 56.7,699.9C56.9,708.26 57.1,707.79 57.3,711.3C57.53,715.4 57.77,720.44 58,722.7C58.6,728.52 59.2,732.53 59.8,734C60.97,736.87 62.13,738.3 63.3,738.9C65.2,739.89 67.1,740.35 69,740.6C72.87,741.11 76.73,741.5 80.6,741.5C81.77,741.5 82.93,740.3 84.1,740.3C85.27,740.3 86.43,742.82 87.6,742.9C93.33,743.3 99.07,743.4 104.8,743.4" fill="none" stroke="#454545" stroke-width="0.85" stroke-linejoin="round" stroke-linecap="round"/>
<path d="M11.4,726.7C12.5,729.59 13.6,732.22 14.7,734.3C16,736.76 17.3,738.6 18.6,740.5C20.17,742.78 21.73,745.29 23.3,746.8C24.9,748.34 26.5,749.65 28.1,750.4C30,751.29 31.9,752.3 33.8,752.3C36.03,752.3 38.27,752.18 40.5,752C42.1,751.87 43.7,750.94 45.3,750.6C46.27,750.39 47.23,750.38 48.2,750.1C49.13,749.83 50.07,748.94 51,747.7C51.8,746.64 52.6,744.09 53.4,741C54.03,738.55 54.67,734.39 55.3,729.6C55.63,727.08 55.97,724.99 56.3,720C56.5,717.01 56.7,715.47 56.9,703C57.5,715.47 58.1,710.59 58.7,720C58.87,722.61 59.03,731.58 59.2,734.3C59.67,741.93 60.13,746.23 60.6,748.7C61.57,753.81 62.53,756.49 63.5,758.2C65.33,761.44 67.17,764.14 69,764.4C69.37,764.45 69.73,764.46 70.1,764.5C74.77,764.97 79.43,765.94 84.1,766.2C91,766.58 97.9,766.9 104.8,766.9" fill="none" stroke="#ee6464" stroke-width="0.8" stroke-linejoin="round" stroke-linecap="round"/>
<path d="M11.4,748.2C12.37,750.58 13.33,752.72 14.3,754.4C15.4,756.31 16.5,758.37 17.6,759.2C18.87,760.15 20.13,761.1 21.4,761.1C22.67,761.1 23.93,759.86 25.2,759.2C26.5,758.53 27.8,757.1 29.1,757.1C30.2,757.1 31.3,758.7 32.4,760.1C33.2,761.12 34,762.56 34.8,764.9C35.27,766.27 35.73,770.22 36.2,771.6C37.33,774.96 38.47,776.58 39.6,778.3C41.17,780.68 42.73,782.89 44.3,784C45.9,785.13 47.5,786.4 49.1,786.4C50.37,786.4 51.63,785.86 52.9,785C53.7,784.46 54.5,781.99 55.3,779.2C55.73,777.69 56.17,775.72 56.6,772.1C56.73,770.99 56.87,770.69 57,766.8C57.23,771.71 57.47,771.71 57.7,773.5C58.33,778.37 58.97,783.19 59.6,785C60.9,788.72 62.2,790.65 63.5,791.7C65.33,793.19 67.17,793.95 69,794.5C70.53,794.96 72.07,795.3 73.6,795.5C77.1,795.96 80.6,795.82 84.1,796.4C85.27,796.59 86.43,797.94 87.6,798.1C92.27,798.73 96.93,799 101.6,799C106.13,799 110.67,797.89 115.2,797.2C118,796.78 120.8,796.82 123.6,795.75C124.13,795.54 124.67,794.19 125.2,793.11C125.53,792.43 125.87,790.6 126.2,790.6C126.97,790.6 127.73,795.69 128.5,795.9C132.3,796.93 136.1,797.2 139.9,797.2C142.93,797.2 145.97,797.13 149,796.72C149.43,796.66 149.87,794 150.3,794C150.6,794 150.9,797.2 151.2,797.2C156.9,797.2 162.6,796.78 168.3,796.3C173.37,795.88 178.43,794.99 183.5,793.4C186.67,792.41 189.83,791.95 193,786.8C193.5,785.99 194,777.57 194.5,773.5C194.83,770.79 195.17,771.47 195.5,765.9C195.93,774.26 196.37,773.9 196.8,777.3C197.43,782.27 198.07,789.8 198.7,790.6C200.9,793.37 203.1,793.68 205.3,794.4C208.17,795.33 211.03,796.3 213.9,796.3C214.4,796.3 214.9,795.81 215.4,795.1C215.83,794.49 216.27,793.29 216.7,788.3C217.03,794.17 217.37,796.21 217.7,796.3C218.83,796.62 219.97,796.7 221.1,796.7" fill="none" stroke="#5a5af0" stroke-width="0.8" stroke-linejoin="round" stroke-linecap="round"/>
<text x="16.04" y="634.9" font-size="7.43" fill="#1a1a1a">1.700(I/S)</text>
<text x="30.23" y="650.3" font-size="7.55" fill="#1a1a1a">1.440(I/S)</text>
<text x="44.74" y="661.8" font-size="7.41" fill="#1a1a1a">1.000(I)</text>
<text x="71.9" y="679.4" font-size="7.58" fill="#1a1a1a">0.720(K)</text>
<text x="173.26" y="736.5" font-size="8.99" fill="#1a1a1a">Footslope C</text>
<text x="183.2" y="752.4" font-size="7.68" fill="#1a1a1a">0.334(I)</text>
<line x1="255.3" y1="806" x2="255.3" y2="808.6" stroke="#8a8a8a" stroke-width="1"/>
<text x="252.92" y="817.7" font-size="8.6" fill="#222">5</text>
<line x1="292.94" y1="806" x2="292.94" y2="808.6" stroke="#8a8a8a" stroke-width="1"/>
<text x="288" y="817.7" font-size="8.6" fill="#222">10</text>
<line x1="330.58" y1="806" x2="330.58" y2="808.6" stroke="#8a8a8a" stroke-width="1"/>
<text x="325.65" y="817.7" font-size="8.6" fill="#222">15</text>
<line x1="368.22" y1="806" x2="368.22" y2="808.6" stroke="#8a8a8a" stroke-width="1"/>
<text x="363.39" y="817.7" font-size="8.6" fill="#222">20</text>
<line x1="405.86" y1="806" x2="405.86" y2="808.6" stroke="#8a8a8a" stroke-width="1"/>
<text x="401.04" y="817.7" font-size="8.6" fill="#222">25</text>
<line x1="443.5" y1="806" x2="443.5" y2="808.6" stroke="#8a8a8a" stroke-width="1"/>
<text x="438.72" y="817.7" font-size="8.6" fill="#222">30</text>
<line x1="256.9" y1="636.4" x2="256.9" y2="803.4" stroke="#555555" stroke-width="1.35" stroke-dasharray="4.1 3.78"/>
<line x1="263.5" y1="648.3" x2="263.5" y2="806" stroke="#1e1ef5" stroke-width="1.35" stroke-dasharray="4.1 3.78"/>
<line x1="284.2" y1="671.9" x2="284.2" y2="806" stroke="#f52020" stroke-width="1.35" stroke-dasharray="4.1 3.78"/>
<line x1="310.5" y1="686.8" x2="310.5" y2="805.1" stroke="#f5913c" stroke-width="1.35" stroke-dasharray="4.1 3.78"/>
<line x1="418.6" y1="759.3" x2="418.6" y2="803.9" stroke="#14147d" stroke-width="1.35" stroke-dasharray="4.1 3.78"/>
<path d="M240.3,690.3C240.97,692.21 241.63,694.05 242.3,695.1C243.47,696.94 244.63,698.09 245.8,699C247.83,700.59 249.87,702.5 251.9,702.5C253.37,702.5 254.83,702.09 256.3,701.5C257.17,701.15 258.03,699.91 258.9,698.6C259.77,697.29 260.63,694.74 261.5,692.5C262.17,690.78 262.83,690.98 263.5,686.8C264,690.61 264.5,690.6 265,692C265.9,694.51 266.8,696.49 267.7,698.1C269.13,700.67 270.57,702.89 272,704.3C273.77,706.04 275.53,708.2 277.3,708.2C278.47,708.2 279.63,707.86 280.8,707.3C281.53,706.95 282.27,705.11 283,703.4C283.33,702.62 283.67,702.57 284,700.3C284.23,704.48 284.47,703.71 284.7,706C285,708.95 285.3,715.58 285.6,717.4C286.33,721.85 287.07,724.18 287.8,725.3C289.27,727.54 290.73,728.74 292.2,729.2C293.8,729.7 295.4,730.1 297,730.1C301.03,730.1 305.07,730.06 309.1,729.8C309.67,729.76 310.23,728 310.8,728C311.4,728 312,731.17 312.6,731.2C318.73,731.47 324.87,731.5 331,731.5" fill="none" stroke="#454545" stroke-width="0.85" stroke-linejoin="round" stroke-linecap="round"/>
<path d="M240.3,727.2C241.1,730.33 241.9,733.28 242.7,735.3C244,738.58 245.3,740.92 246.6,742.9C248.17,745.28 249.73,747.19 251.3,748.7C252.9,750.24 254.5,751.61 256.1,752.5C258,753.55 259.9,754.74 261.8,754.9C264.03,755.08 266.27,755.2 268.5,755.2C270.73,755.2 272.97,754.05 275.2,753.4C276.17,753.12 277.13,753.04 278.1,752.5C278.9,752.05 279.7,749.64 280.5,746.8C281.13,744.55 281.77,739.79 282.4,734.3C282.8,730.83 283.2,724.31 283.6,720C283.8,717.85 284,718.4 284.2,714C284.7,718.35 285.2,715.86 285.7,720C285.87,721.4 286.03,736 286.2,739.1C286.67,747.79 287.13,752.28 287.6,754.4C288.57,758.8 289.53,760.89 290.5,762C292.67,764.48 294.83,765.61 297,766.3C298.7,766.84 300.4,767.26 302.1,767.4C306.77,767.77 311.43,768 316.1,768C321.07,768 326.03,768 331,768" fill="none" stroke="#ee6464" stroke-width="0.8" stroke-linejoin="round" stroke-linecap="round"/>
<path d="M240.3,745.3C241.1,747.67 241.9,749.9 242.7,751.5C244,754.11 245.3,756.85 246.6,757.7C248.17,758.73 249.73,759.6 251.3,759.6C252.9,759.6 254.5,758.2 256.1,758.2C257.07,758.2 258.03,759.18 259,760.1C259.93,760.99 260.87,762.81 261.8,764.9C262.6,766.69 263.4,770.37 264.2,772.5C265.33,775.52 266.47,778.38 267.6,780.2C269.17,782.72 270.73,784.79 272.3,785.9C273.9,787.03 275.5,788.3 277.1,788.3C278.4,788.3 279.7,787.3 281,785.9C281.77,785.07 282.53,782.17 283.3,779.2C283.63,777.91 283.97,777.81 284.3,774C284.6,779.21 284.9,779.64 285.2,781.1C286,785 286.8,787.43 287.6,788.8C289.2,791.54 290.8,793.01 292.4,794C293.93,794.95 295.47,795.72 297,796C298.1,796.2 299.2,796.26 300.3,796.4C303.8,796.84 307.3,797.4 310.8,797.8C314.9,798.26 319,799 323.1,799C329.2,799 335.3,798.36 341.4,797.8C343.87,797.57 346.33,797.53 348.8,796.83C349.33,796.68 349.87,795.79 350.4,795.07C350.73,794.62 351.07,793.4 351.4,793.4C352.17,793.4 352.93,796.75 353.7,796.9C357.2,797.6 360.7,797.8 364.2,797.8C367.23,797.8 370.27,797.73 373.3,797.29C373.73,797.23 374.17,794.4 374.6,794.4C374.9,794.4 375.2,797.2 375.5,797.2C381.2,797.2 386.9,796.73 392.6,796.3C397.67,795.92 402.73,795.49 407.8,794.4C410.33,793.86 412.87,793.29 415.4,790.6C416.17,789.78 416.93,783.54 417.7,779.2C418,777.5 418.3,777.68 418.6,773.5C418.93,779.07 419.27,779.09 419.6,781.1C420.4,785.93 421.2,791.66 422,792.5C424.23,794.85 426.47,795.56 428.7,795.9C431.87,796.38 435.03,796.7 438.2,796.7C438.7,796.7 439.2,795.58 439.7,792.5C440.13,795.95 440.57,797.2 441,797.2C441.97,797.2 442.93,797.2 443.9,797.2" fill="none" stroke="#5a5af0" stroke-width="0.8" stroke-linejoin="round" stroke-linecap="round"/>
<text x="241.44" y="633.8" font-size="7.34" fill="#1a1a1a">1.700(I/S)</text>
<text x="258.24" y="646.8" font-size="7.36" fill="#1a1a1a">1.431(I/S)</text>
<text x="273.04" y="669" font-size="7.32" fill="#1a1a1a">1.000(I)</text>
<text x="297.21" y="683.8" font-size="7.36" fill="#1a1a1a">0.720(K)</text>
<text x="397.8" y="738" font-size="9.04" fill="#1a1a1a">Toeslope A</text>
<text x="406.81" y="754.8" font-size="7.38" fill="#1a1a1a">0.334(I)</text>
<line x1="477.1" y1="806" x2="477.1" y2="808.6" stroke="#8a8a8a" stroke-width="1"/>
<text x="474.72" y="817.7" font-size="8.6" fill="#222">5</text>
<line x1="514.2" y1="806" x2="514.2" y2="808.6" stroke="#8a8a8a" stroke-width="1"/>
<text x="509.26" y="817.7" font-size="8.6" fill="#222">10</text>
<line x1="551.3" y1="806" x2="551.3" y2="808.6" stroke="#8a8a8a" stroke-width="1"/>
<text x="546.37" y="817.7" font-size="8.6" fill="#222">15</text>
<line x1="588.4" y1="806" x2="588.4" y2="808.6" stroke="#8a8a8a" stroke-width="1"/>
<text x="583.57" y="817.7" font-size="8.6" fill="#222">20</text>
<line x1="625.5" y1="806" x2="625.5" y2="808.6" stroke="#8a8a8a" stroke-width="1"/>
<text x="620.68" y="817.7" font-size="8.6" fill="#222">25</text>
<line x1="662.6" y1="806" x2="662.6" y2="808.6" stroke="#8a8a8a" stroke-width="1"/>
<text x="657.82" y="817.7" font-size="8.6" fill="#222">30</text>
<line x1="479.5" y1="636.4" x2="479.5" y2="806" stroke="#333333" stroke-width="1.35" stroke-dasharray="4.04 3.73"/>
<line x1="485.8" y1="650.9" x2="485.8" y2="806" stroke="#1e1ef5" stroke-width="1.35" stroke-dasharray="4.04 3.73"/>
<line x1="505.6" y1="667.6" x2="505.6" y2="806" stroke="#f52020" stroke-width="1.35" stroke-dasharray="4.04 3.73"/>
<line x1="532.1" y1="681.6" x2="532.1" y2="806" stroke="#f5a565" stroke-width="1.35" stroke-dasharray="4.04 3.73"/>
<line x1="638.1" y1="760.2" x2="638.1" y2="803.9" stroke="#14147d" stroke-width="1.35" stroke-dasharray="4.04 3.73"/>
<path d="M462.3,680.3C462.97,682 463.63,683.61 464.3,684.7C465.47,686.61 466.63,688.15 467.8,689.1C469.83,690.76 471.87,692.6 473.9,692.6C475.37,692.6 476.83,691.97 478.3,691.3C479.17,690.9 480.03,690.16 480.9,689.1C481.77,688.04 482.63,685.76 483.5,683.4C484.17,681.58 484.83,681.53 485.5,676.4C486,680.87 486.5,680.88 487,682.5C487.9,685.41 488.8,687.8 489.7,689.5C491.13,692.22 492.57,694.52 494,695.7C495.63,697.05 497.27,698.5 498.9,698.5C500.2,698.5 501.5,697.87 502.8,697C503.43,696.58 504.07,695.74 504.7,693.9C504.93,693.22 505.17,692.62 505.4,689.1C505.63,694.53 505.87,693.76 506.1,696.5C506.3,698.85 506.5,702.44 506.7,704.4C507.13,708.65 507.57,712.74 508,714C509.2,717.48 510.4,718.73 511.6,719.7C513.33,721.1 515.07,722.4 516.8,722.4C520.3,722.4 523.8,722.4 527.3,722.4C528.67,722.4 530.03,719.6 531.4,719.6C532.37,719.6 533.33,723.7 534.3,723.7C537.23,723.7 540.17,723.7 543.1,723.7C546.03,723.7 548.97,723.95 551.9,724.2" fill="none" stroke="#454545" stroke-width="0.85" stroke-linejoin="round" stroke-linecap="round"/>
<path d="M462.3,725.3C463.1,728.43 463.9,731.38 464.7,733.4C466,736.68 467.3,739.02 468.6,741C470.17,743.38 471.73,745.26 473.3,746.8C475.23,748.71 477.17,750.59 479.1,751.5C481,752.4 482.9,753.4 484.8,753.4C486.7,753.4 488.6,752.5 490.5,752.5C492.73,752.5 494.97,753 497.2,753C498.17,753 499.13,751.86 500.1,750.6C500.9,749.56 501.7,747.08 502.5,743.9C503.13,741.38 503.77,736.49 504.4,731.5C504.8,728.35 505.2,724.44 505.6,720C505.73,718.52 505.87,718.67 506,715C506.27,718.67 506.53,716.92 506.8,720C506.93,721.54 507.07,731.82 507.2,734.3C507.7,743.59 508.2,747.5 508.7,750.6C509.63,756.39 510.57,760.74 511.5,762C514,765.37 516.5,766.85 519,767.3C521.2,767.7 523.4,767.91 525.6,768C529.7,768.17 533.8,768.3 537.9,768.3C542.57,768.3 547.23,768.3 551.9,768.3" fill="none" stroke="#ee6464" stroke-width="0.8" stroke-linejoin="round" stroke-linecap="round"/>
<path d="M462.3,741C463.1,743.64 463.9,746.13 464.7,747.7C466,750.26 467.3,752.26 468.6,753.4C469.87,754.52 471.13,755.8 472.4,755.8C473.67,755.8 474.93,755.2 476.2,755.2C477.17,755.2 478.13,755.2 479.1,755.2C480.03,755.2 480.97,756.9 481.9,758.2C482.87,759.55 483.83,761.01 484.8,764C485.27,765.44 485.73,770.03 486.2,771.6C487.33,775.41 488.47,777.2 489.6,779.2C491.17,781.96 492.73,784.93 494.3,785.9C495.9,786.89 497.5,787.8 499.1,787.8C500.37,787.8 501.63,787.06 502.9,785.9C503.57,785.29 504.23,782.53 504.9,780.2C505.2,779.15 505.5,779.19 505.8,776.4C506.13,780.58 506.47,780.69 506.8,782.1C507.6,785.49 508.4,788.42 509.2,789.7C510.63,791.99 512.07,793.22 513.5,794C515.33,795 517.17,795.67 519,796C520.03,796.19 521.07,796.4 522.1,796.4C525,796.4 527.9,796 530.8,796C531.4,796 532,797.94 532.6,798.1C536.7,799.17 540.8,799.5 544.9,799.5C551.43,799.5 557.97,798.18 564.5,797.2C566.03,796.97 567.57,796.89 569.1,796.36C569.63,796.18 570.17,795.47 570.7,794.84C571.03,794.46 571.37,793.4 571.7,793.4C572.47,793.4 573.23,796.04 574,796.3C577.17,797.36 580.33,797.8 583.5,797.8C586.87,797.8 590.23,797.73 593.6,797.29C594.03,797.23 594.47,794.4 594.9,794.4C595.2,794.4 595.5,797.2 595.8,797.2C601.17,797.2 606.53,796.99 611.9,796.7C616.97,796.43 622.03,795.47 627.1,794C629.97,793.17 632.83,792.71 635.7,788.7C636.33,787.81 636.97,779.06 637.6,773.5C637.77,772.04 637.93,772.25 638.1,768.8C638.43,777.82 638.77,778.61 639.1,781.1C639.87,786.84 640.63,791.68 641.4,792.5C643.6,794.86 645.8,795.54 648,795.9C650.83,796.36 653.67,796.7 656.5,796.7C657.13,796.7 657.77,794 658.4,794C658.87,794 659.33,797.2 659.8,797.2C660.73,797.2 661.67,797.2 662.6,797.2" fill="none" stroke="#5a5af0" stroke-width="0.8" stroke-linejoin="round" stroke-linecap="round"/>
<text x="465.35" y="634.5" font-size="7.27" fill="#1a1a1a">1.700(I/S)</text>
<text x="480.55" y="649.6" font-size="7.24" fill="#1a1a1a">1.435(I/S)</text>
<text x="493.65" y="663.7" font-size="7.26" fill="#1a1a1a">1.000(I)</text>
<text x="518.22" y="677.9" font-size="7.2" fill="#1a1a1a">0.720(K)</text>
<text x="617.11" y="739.3" font-size="8.84" fill="#1a1a1a">Toeslope B</text>
<text x="626.42" y="755.4" font-size="7.29" fill="#1a1a1a">0.334(I)</text>
<text x="82.16" y="830.5" font-size="9" fill="#1a1a1a">Degrees two Theta</text>
<text x="309.18" y="831.8" font-size="8.76" fill="#1a1a1a">Degrees two Theta</text>
<text x="530.2" y="831.5" font-size="8.56" fill="#1a1a1a">Degrees two Theta</text>
</svg>
</body></html>
